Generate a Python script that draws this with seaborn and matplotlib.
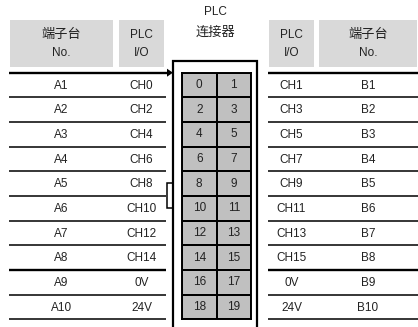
import numpy as np
import pandas as pd
import matplotlib
matplotlib.use("Agg")
import matplotlib.pyplot as plt
from matplotlib.colors import ListedColormap
from matplotlib.patches import Rectangle, Polygon
import seaborn as sns

# table data
left_terminal = ['A1', 'A2', 'A3', 'A4', 'A5', 'A6', 'A7', 'A8', 'A9', 'A10']
left_io = ['CH0', 'CH2', 'CH4', 'CH6', 'CH8', 'CH10', 'CH12', 'CH14', '0V', '24V']
pins_left = [0, 2, 4, 6, 8, 10, 12, 14, 16, 18]
pins_right = [1, 3, 5, 7, 9, 11, 13, 15, 17, 19]
right_io = ['CH1', 'CH3', 'CH5', 'CH7', 'CH9', 'CH11', 'CH13', 'CH15', '0V', '24V']
right_terminal = ['B1', 'B2', 'B3', 'B4', 'B5', 'B6', 'B7', 'B8', 'B9', 'B10']
header_terminal = '端子台\nNo.'
header_io = 'PLC\nI/O'
connector_title = 'PLC\n连接器'

sns.set_style('white')
plt.rcParams['font.family'] = ['Liberation Sans', 'Noto Sans CJK SC', 'DejaVu Sans']

W, H = 418, 327
fig = plt.figure(figsize=(W / 100, H / 100), dpi=100)
ax = fig.add_axes([0, 0, 1, 1])
ax.set_xlim(0, W)
ax.set_ylim(H, 0)
ax.axis('off')

txt = '#222222'
head_gray = '#d9d9d9'
cell_gray = '#c0c0c0'

# layout (pixels)
top = 72.7
row_h = 24.67
n = len(left_terminal)
left_cols = [(10, 113), (119, 164)]
right_cols = [(269, 314), (319, 417)]
box_x0, box_x1 = 173, 257
cell_x0, cell_x1 = 182, 251

# header boxes
for (x0, x1), label in zip(left_cols + right_cols,
                           [header_terminal, header_io, header_io, header_terminal]):
    ax.add_patch(Rectangle((x0, 20), x1 - x0, 47, color=head_gray, lw=0))
    l1, l2 = label.split('\n')
    ax.text((x0 + x1) / 2, 35, l1, ha='center', va='center', fontsize=9.5 if l1 == '端子台' else 8.5, color=txt)
    ax.text((x0 + x1) / 2, 53, l2, ha='center', va='center', fontsize=8.5, color=txt)

t1, t2 = connector_title.split('\n')
ax.text((box_x0 + box_x1) / 2, 12, t1, ha='center', va='center', fontsize=8.5, color=txt)
ax.text((box_x0 + box_x1) / 2, 33, t2, ha='center', va='center', fontsize=9.5, color=txt)

# row lines and labels
for k in range(n + 1):
    y = top + k * row_h
    lw = 1.7 if k in (0, 8) else 1.1
    ax.plot([9, 167 if k == 0 else 166], [y, y], color='black', lw=lw, solid_capstyle='butt')
    ax.plot([268, 418], [y, y], color='black', lw=lw, solid_capstyle='butt')

df = pd.DataFrame({'lt': left_terminal, 'li': left_io, 'ri': right_io, 'rt': right_terminal})
for i, row in df.iterrows():
    y = top + (i + 0.5) * row_h
    for (x0, x1), key in zip(left_cols + right_cols, ['lt', 'li', 'ri', 'rt']):
        ax.text((x0 + x1) / 2, y + 0.5, row[key], ha='center', va='center', fontsize=8.5, color=txt)

# arrow into connector
ax.add_patch(Polygon([[167, top - 4], [167, top + 4], [173, top]], closed=True, color='black', lw=0))

# connector outline (open at bottom) and notch
ax.plot([box_x0, box_x0, box_x1, box_x1], [H + 2, 61, 61, H + 2], color='black', lw=1.6,
        solid_joinstyle='miter')
ax.add_patch(Rectangle((167, 183), 6, 25, facecolor='white', edgecolor='black', lw=1.1))

# connector pins via heatmap
pins = np.array([pins_left, pins_right]).T
cax = fig.add_axes([cell_x0 / W, 1 - (top + n * row_h) / H, (cell_x1 - cell_x0) / W, n * row_h / H])
sns.heatmap(np.zeros_like(pins), annot=pins, fmt='d', cmap=ListedColormap([cell_gray]), cbar=False,
            linewidths=1.1, linecolor='black', ax=cax,
            annot_kws={'fontsize': 8.5, 'color': txt})
cax.set_xticks([])
cax.set_yticks([])
for s in cax.spines.values():
    s.set_visible(True)
    s.set_linewidth(1.4)
    s.set_color('black')

fig.savefig('out.png', dpi=100)
